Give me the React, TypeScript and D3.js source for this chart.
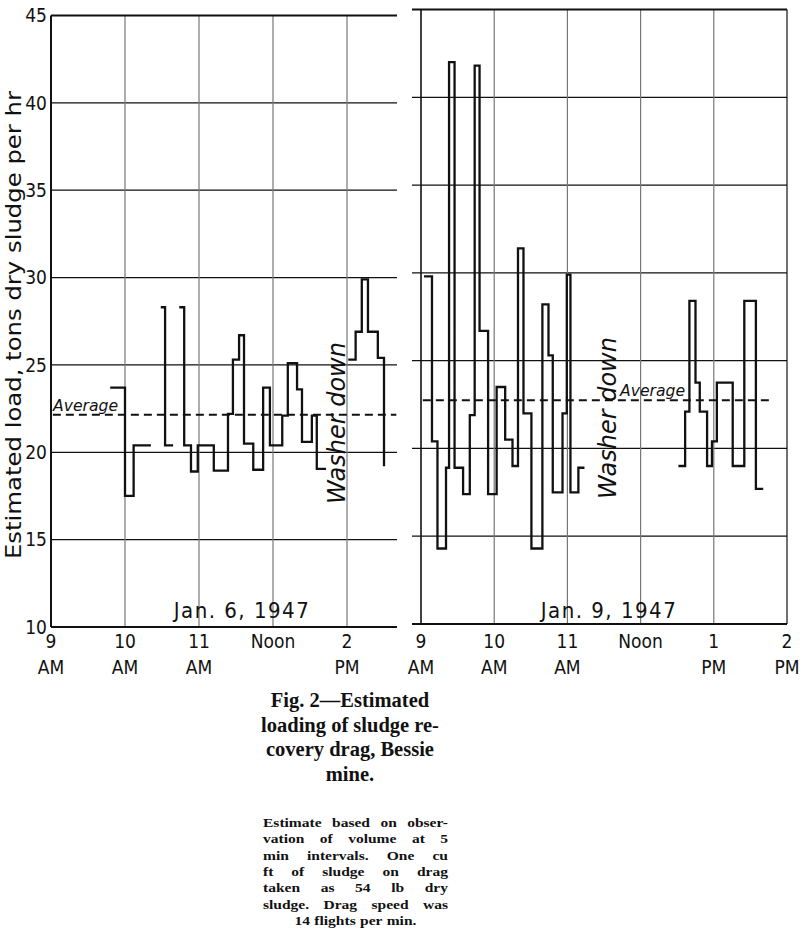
import React from "react";
import * as d3 from "d3";

// Minutes after 9:00 AM at which each 5-min reading starts (null = break in the trace)
const jan6Minutes: (number | null)[] = [
  48, 60, 67, 81, null,
  89, 92.5, 99, null,
  104, 108, 113.5, 119, 132, 143.5, 147.5, 152.5, 156.5, 164, 172, 177.5, 187.5, 192, 199.5, 203.5, 211.5, 215.5, 223, null,
  241, 247, 252, 257, 265, 270,
];
const jan6Load: (number | null)[] = [
  23.7, 17.5, 20.4, 20.4, null,
  28.3, 20.4, 20.4, null,
  28.3, 20.4, 18.9, 20.4, 18.95, 22.2, 25.3, 26.7, 20.5, 19.0, 23.7, 20.4, 22.1, 25.1, 23.6, 20.6, 22.1, 19.05, 19.05, null,
  25.3, 26.9, 29.9, 26.9, 25.4, 19.2,
];
const jan9Minutes: (number | null)[] = [
  2.5, 9, 13.5, 20.5, 23, 27.5, 34.5, 40, 44, 48, 55, 62, 69, 75, 79.5, 84, 90.5, 99.5, 104.5, 108, 116, 119.5, 122.5, 129, 134, null,
  211, 216.5, 220, 225, 228.5, 234.5, 238.5, 242.5, 255.5, 265, 274.5, 280.5,
];
const jan9Load: (number | null)[] = [
  29.8, 20.4, 14.3, 18.9, 42.0, 18.9, 17.4, 21.9, 41.8, 26.7, 17.4, 23.5, 20.5, 19.0, 31.4, 22.0, 14.3, 28.2, 25.3, 17.5, 22.0, 29.9, 17.5, 18.9, 18.9, null,
  19.0, 22.1, 28.4, 23.75, 22.1, 19.0, 20.4, 23.75, 19.0, 28.4, 17.7, 17.7,
];

const jan6Average = 22.15;
const jan9Average = 22.75;

const yTicks = [10, 15, 20, 25, 30, 35, 40, 45];
const jan6TickMinutes = [0, 60, 120, 180, 240];
const jan6TickLabels = [["9", "AM"], ["10", "AM"], ["11", "AM"], ["Noon", ""], ["2", "PM"]];
const jan9TickMinutes = [0, 60, 120, 180, 240, 300];
const jan9TickLabels = [["9", "AM"], ["10", "AM"], ["11", "AM"], ["Noon", ""], ["1", "PM"], ["2", "PM"]];

const captionLines = ["Fig. 2—Estimated", "loading of sludge re-", "covery drag, Bessie", "mine."];
const noteLines = [
  "Estimate based on obser-",
  "vation of volume at 5",
  "min intervals. One cu",
  "ft of sludge on drag",
  "taken as 54 lb dry",
  "sludge. Drag speed was",
  "14 flights per min.",
];

const COND = "'Liberation Sans Narrow', 'DejaVu Sans Condensed', sans-serif";
const SANS = "'DejaVu Sans', sans-serif";
const SERIF = "'Liberation Serif', 'DejaVu Serif', serif";
const NOTE_SIZE = 13.5;
const NOTE_STRETCH = 1.15;

let measureCtx: CanvasRenderingContext2D | null = null;
function measure(s: string): number {
  if (!measureCtx && typeof document !== "undefined") {
    const c = document.createElement("canvas");
    measureCtx = c.getContext("2d");
  }
  if (!measureCtx) return s.length * NOTE_SIZE * 0.5 * NOTE_STRETCH;
  measureCtx.font = `bold ${NOTE_SIZE}px 'Liberation Serif', serif`;
  return measureCtx.measureText(s).width * NOTE_STRETCH;
}

function Word({ x, y, children }: { x: number; y: number; children: string }) {
  return (
    <text transform={`translate(${x},${y}) scale(${NOTE_STRETCH},1)`} fontFamily={SERIF} fontWeight="bold" fontSize={NOTE_SIZE} fill="#111">{children}</text>
  );
}

function JustifiedLine({ text, x, y, width, center }: { text: string; x: number; y: number; width: number; center?: boolean }) {
  const words = text.split(" ");
  const widths = words.map(measure);
  const total = widths.reduce((a, b) => a + b, 0);
  let gap = words.length > 1 ? (width - total) / (words.length - 1) : 0;
  let cx = x;
  if (center) {
    gap = measure(" ") * 1.1;
    const full = total + gap * (words.length - 1);
    cx = x + (width - full) / 2;
  }
  return (
    <g>
      {words.map((w, i) => {
        const px = cx;
        cx += widths[i] + gap;
        return <Word key={i} x={px} y={y}>{w}</Word>;
      })}
    </g>
  );
}

type PanelProps = {
  minutes: (number | null)[];
  load: (number | null)[];
  avg: number;
  x: d3.ScaleLinear<number, number>;
  y: d3.ScaleLinear<number, number>;
  tickMinutes: number[];
  tickLabels: string[][];
  hLeft: number;
  hRight: number;
  avgFrom: number;
  avgTo: number;
  date: string;
  dateX: number;
  washerX: number;
  washerY: number;
  avgLabelX: number;
  avgLabelY: number;
  leftAxis: boolean;
};

function Panel(p: PanelProps) {
  const pts = p.minutes.map((m, i) => [m, p.load[i]] as [number | null, number | null]);
  const line = d3
    .line<[number | null, number | null]>()
    .defined((d) => d[0] !== null && d[1] !== null)
    .x((d) => p.x(d[0] as number))
    .y((d) => p.y(d[1] as number))
    .curve(d3.curveStepAfter);
  const top = p.y(45);
  const bottom = p.y(10);
  const [x0] = p.x.range();
  return (
    <g>
      {yTicks.filter((v) => v > 10 && v < 45).map((v) => (
        <line key={v} x1={p.hLeft} x2={p.hRight} y1={p.y(v)} y2={p.y(v)} stroke="#111" strokeWidth={1.2} />
      ))}
      {p.tickMinutes.map((m, i) =>
        i === 0 ? null : (
          <line key={m} x1={p.x(m)} x2={p.x(m)} y1={top} y2={bottom} stroke={m === p.tickMinutes[p.tickMinutes.length - 1] && !p.leftAxis ? "#111" : "#777"} strokeWidth={1.2} />
        )
      )}
      <line x1={x0} x2={x0} y1={top} y2={bottom} stroke="#111" strokeWidth={p.leftAxis ? 2 : 1.6} />
      <line x1={p.hLeft} x2={p.hRight} y1={top} y2={top} stroke="#111" strokeWidth={2} />
      <line x1={p.hLeft} x2={p.hRight} y1={bottom} y2={bottom} stroke="#111" strokeWidth={2} />
      <line x1={p.x(p.avgFrom)} x2={p.x(p.avgTo)} y1={p.y(p.avg)} y2={p.y(p.avg)} stroke="#111" strokeWidth={2} strokeDasharray="8,5" />
      <text x={p.avgLabelX} y={p.avgLabelY} fontFamily={SANS} fontStyle="italic" fontSize={16} textLength={65} lengthAdjust="spacingAndGlyphs" fill="#111">Average</text>
      <path d={line(pts) || ""} fill="none" stroke="#111" strokeWidth={2.3} strokeLinejoin="miter" />
      <text transform={`translate(${p.washerX},${p.washerY}) rotate(-90)`} textAnchor="middle" fontFamily={SANS} fontStyle="italic" fontSize={24} fill="#111">Washer down</text>
      <text x={p.dateX} y={618} textAnchor="middle" fontFamily={COND} fontSize={22} letterSpacing={1.5} fill="#111">{p.date}</text>
      {p.tickMinutes.map((m, i) => (
        <g key={"t" + m}>
          <text x={p.x(m)} y={648} textAnchor="middle" fontFamily={COND} fontSize={19} fill="#111">{p.tickLabels[i][0]}</text>
          <text x={p.x(m)} y={674} textAnchor="middle" fontFamily={COND} fontSize={19} fill="#111">{p.tickLabels[i][1]}</text>
        </g>
      ))}
    </g>
  );
}

export default function App() {
  const xLeft = d3.scaleLinear().domain([0, 280]).range([51, 51 + (280 * 74) / 60]);
  const yLeft = d3.scaleLinear().domain([10, 45]).range([627, 15.5]);
  const xRight = d3.scaleLinear().domain([0, 300]).range([421, 787]);
  const yRight = d3.scaleLinear().domain([10, 45]).range([624, 9.5]);

  return (
    <svg width={800} height={932} style={{ position: "absolute", left: 0, top: 0, background: "#fff" }}>
      <rect width={800} height={932} fill="#fff" />
      <Panel
        minutes={jan6Minutes} load={jan6Load} avg={jan6Average} x={xLeft} y={yLeft}
        tickMinutes={jan6TickMinutes} tickLabels={jan6TickLabels}
        hLeft={51} hRight={397} avgFrom={1.5} avgTo={280}
        date="Jan. 6, 1947" dateX={242} washerX={345} washerY={423}
        avgLabelX={53} avgLabelY={411} leftAxis={true}
      />
      <Panel
        minutes={jan9Minutes} load={jan9Load} avg={jan9Average} x={xRight} y={yRight}
        tickMinutes={jan9TickMinutes} tickLabels={jan9TickLabels}
        hLeft={412} hRight={787} avgFrom={1.5} avgTo={288}
        date="Jan. 9, 1947" dateX={609} washerX={616} washerY={418}
        avgLabelX={620} avgLabelY={396} leftAxis={false}
      />
      {yTicks.map((v) => (
        <text key={v} x={47} y={yLeft(v)} dy="0.35em" textAnchor="end" fontFamily={COND} fontSize={19} fill="#111">{v}</text>
      ))}
      <text transform={`translate(21,325) rotate(-90)`} textAnchor="middle" fontFamily={SANS} fontSize={22} textLength={468} lengthAdjust="spacingAndGlyphs" fill="#111">
        Estimated load, tons dry sludge per hr
      </text>
      {captionLines.map((s, i) => (
        <text key={s} x={350} y={707 + i * 24.5} textAnchor="middle" fontFamily={SERIF} fontWeight="bold" fontSize={20.5} fill="#111">{s}</text>
      ))}
      {noteLines.map((s, i) => (
        <JustifiedLine key={s} text={s} x={263} y={827 + i * 16.3} width={185} center={i === noteLines.length - 1} />
      ))}
    </svg>
  );
}
